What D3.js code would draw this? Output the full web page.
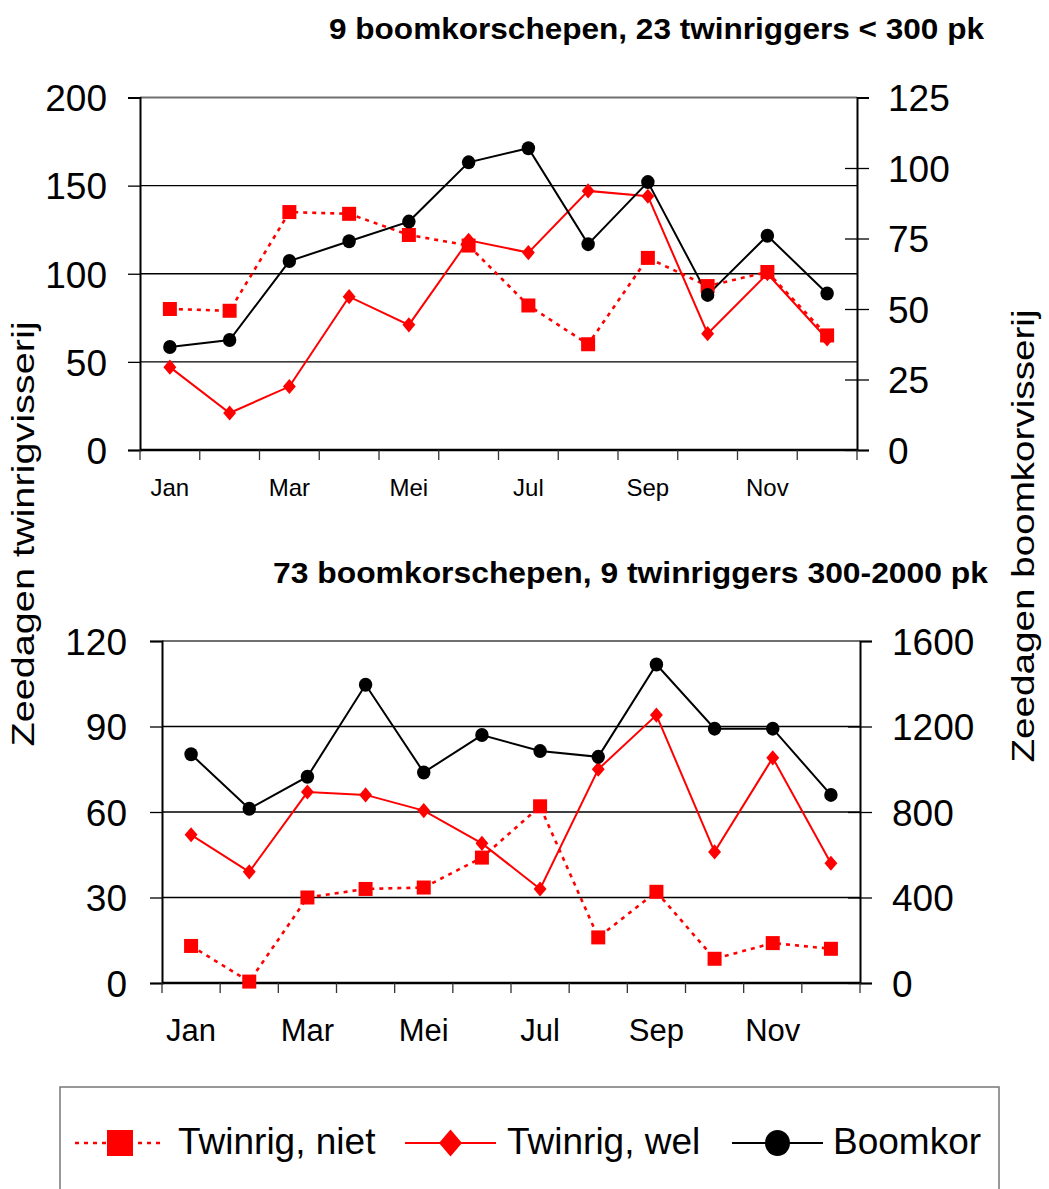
<!DOCTYPE html>
<html>
<head>
<meta charset="utf-8">
<script src="https://cdn.jsdelivr.net/npm/d3@7"></script>
<style>
  html, body { margin: 0; padding: 0; background: #fff; }
  svg { display: block; font-family: "Liberation Sans", Arial, sans-serif; }
</style>
</head>
<body>
<svg id="chart" width="1049" height="1189"></svg>
<script>
// ---- Data ----
const months = ["Jan","Feb","Mar","Apr","Mei","Jun","Jul","Aug","Sep","Okt","Nov","Dec"];
const shownMonths = ["Jan","Mar","Mei","Jul","Sep","Nov"];

// Panel 1: 9 boomkorschepen, 23 twinriggers < 300 pk
const title1 = "9 boomkorschepen, 23 twinriggers < 300 pk";
const twinNiet1 = [80, 79, 135, 134, 122, 116, 82, 60, 109, 93, 101, 65];
const twinWel1  = [47, 21, 36, 87, 71, 119, 112, 147, 144, 66, 100, 63];
const boomkor1  = [36.5, 39, 67, 74, 81, 102, 107, 73, 95, 55, 76, 55.5];
const leftTicks1 = [0, 50, 100, 150, 200];
const rightTicks1 = [0, 25, 50, 75, 100, 125];

// Panel 2: 73 boomkorschepen, 9 twinriggers 300-2000 pk
const title2 = "73 boomkorschepen, 9 twinriggers 300-2000 pk";
const twinNiet2 = [13, 0.5, 30, 33, 33.5, 44, 62, 16, 32, 8.5, 14, 12];
const twinWel2  = [52, 39, 67, 66, 60.5, 49, 33, 75, 94, 46, 79, 42];
const boomkor2  = [1070, 815, 965, 1395, 985, 1160, 1085, 1058, 1490, 1190, 1190, 880];
const leftTicks2 = [0, 30, 60, 90, 120];
const rightTicks2 = [0, 400, 800, 1200, 1600];

const seriesNames = ["Twinrig, niet", "Twinrig, wel", "Boomkor"];
const leftAxisTitle = "Zeedagen twinrigvisserij";
const rightAxisTitle = "Zeedagen boomkorvisserij";

// ---- Drawing ----
const svg = d3.select("#chart");
const RED = "#ff0000";

function drawMarker(g, type, cx, cy, s) {
  if (type === "square") {
    g.append("rect").attr("x", cx - s/2).attr("y", cy - s/2)
      .attr("width", s).attr("height", s).attr("fill", RED);
  } else if (type === "diamond") {
    const w = s * 0.46, h = s * 0.54;
    g.append("path").attr("d", `M${cx},${cy-h}L${cx+w},${cy}L${cx},${cy+h}L${cx-w},${cy}Z`)
      .attr("fill", RED);
  } else {
    g.append("ellipse").attr("cx", cx).attr("cy", cy).attr("rx", s*0.48).attr("ry", s*0.5)
      .attr("fill", "#000");
  }
}

function panel(cfg) {
  const g = svg.append("g");
  const x = d3.scaleBand().domain(months).range([cfg.left, cfg.right]).padding(0);
  const yL = d3.scaleLinear().domain([0, cfg.leftMax]).range([cfg.bottom, cfg.top]);
  const yR = d3.scaleLinear().domain([0, cfg.rightMax]).range([cfg.bottom, cfg.top]);
  const cx = d => x(d) + x.bandwidth() / 2;

  // gridlines
  g.append("g").selectAll("line")
    .data(cfg.leftTicks.filter(v => v > 0 && v < cfg.leftMax))
    .join("line")
    .attr("x1", cfg.left).attr("x2", cfg.right)
    .attr("y1", d => yL(d)).attr("y2", d => yL(d))
    .attr("stroke", "#000").attr("stroke-width", 1.3);

  // plot border top (gray)
  g.append("line").attr("x1", cfg.left).attr("x2", cfg.right)
    .attr("y1", yL(cfg.leftMax)).attr("y2", yL(cfg.leftMax))
    .attr("stroke", "#707070").attr("stroke-width", 2);

  // left axis
  const la = g.append("g").attr("transform", `translate(${cfg.left},0)`)
    .call(d3.axisLeft(yL).tickValues(cfg.leftTicks).tickSize(12).tickPadding(cfg.leftPad).tickFormat(d3.format("d")));
  la.select(".domain").attr("stroke", "#000").attr("stroke-width", 2);
  la.selectAll(".tick line").attr("stroke", "#000").attr("stroke-width", 1.3);
  la.selectAll(".tick text").attr("font-size", 37).attr("fill", "#000")
    .attr("font-family", "Liberation Sans, Arial, sans-serif").attr("dy", "0.36em");

  // right axis
  const ra = g.append("g").attr("transform", `translate(${cfg.right},0)`)
    .call(d3.axisRight(yR).tickValues(cfg.rightTicks).tickSize(12).tickPadding(cfg.rightPad).tickFormat(d3.format("d")));
  ra.select(".domain").attr("stroke", "#000").attr("stroke-width", 2);
  ra.selectAll(".tick line").attr("stroke", "#000").attr("stroke-width", 1.3)
    .attr("x1", d => d === cfg.rightMax ? 0 : -12);
  ra.selectAll(".tick text").attr("font-size", 37).attr("fill", "#000")
    .attr("font-family", "Liberation Sans, Arial, sans-serif").attr("dy", "0.36em");

  // bottom axis line
  g.append("line").attr("x1", cfg.left).attr("x2", cfg.right)
    .attr("y1", cfg.bottom).attr("y2", cfg.bottom)
    .attr("stroke", "#000").attr("stroke-width", 2.5);
  // category boundary ticks
  const bounds = months.map(m => x(m)).concat([cfg.right]);
  g.append("g").selectAll("line").data(bounds).join("line")
    .attr("x1", d => d).attr("x2", d => d)
    .attr("y1", cfg.bottom).attr("y2", cfg.bottom + 10)
    .attr("stroke", "#333").attr("stroke-width", 1.3);
  // month labels
  g.append("g").selectAll("text").data(shownMonths).join("text")
    .attr("x", d => cx(d)).attr("y", cfg.labelY)
    .attr("text-anchor", "middle").attr("font-size", cfg.monthFont).attr("fill", "#000")
    .text(d => d);

  // lines
  const lineL = d3.line().x((d, i) => cx(months[i])).y(d => yL(d));
  const lineR = d3.line().x((d, i) => cx(months[i])).y(d => yR(d));

  g.append("path").datum(cfg.niet).attr("d", lineL).attr("fill", "none")
    .attr("stroke", RED).attr("stroke-width", 2.6).attr("stroke-dasharray", "4,5");
  g.append("path").datum(cfg.wel).attr("d", lineL).attr("fill", "none")
    .attr("stroke", RED).attr("stroke-width", 2);
  g.append("path").datum(cfg.boom).attr("d", lineR).attr("fill", "none")
    .attr("stroke", "#000").attr("stroke-width", 2);

  const mk = g.append("g");
  cfg.niet.forEach((v, i) => drawMarker(mk, "square", cx(months[i]), yL(v), 14));
  cfg.wel.forEach((v, i) => drawMarker(mk, "diamond", cx(months[i]), yL(v), 14));
  cfg.boom.forEach((v, i) => drawMarker(mk, "circle", cx(months[i]), yR(v), 14));

  // title
  svg.append("text").attr("x", cfg.titleRight).attr("y", cfg.titleY)
    .attr("text-anchor", "end").attr("font-weight", "bold").attr("font-size", 29)
    .attr("textLength", cfg.titleLen).attr("lengthAdjust", "spacingAndGlyphs")
    .attr("fill", "#000").text(cfg.title);
}

panel({
  left: 140, right: 857, top: 97.5, bottom: 450,
  leftMax: 200, rightMax: 125,
  leftTicks: leftTicks1, rightTicks: rightTicks1,
  leftPad: 21, rightPad: 19,
  niet: twinNiet1, wel: twinWel1, boom: boomkor1,
  labelY: 496, monthFont: 24,
  title: title1, titleRight: 984, titleY: 39, titleLen: 655
});

panel({
  left: 162, right: 860, top: 641, bottom: 983,
  leftMax: 120, rightMax: 1600,
  leftTicks: leftTicks2, rightTicks: rightTicks2,
  leftPad: 23, rightPad: 20,
  niet: twinNiet2, wel: twinWel2, boom: boomkor2,
  labelY: 1041, monthFont: 31,
  title: title2, titleRight: 988, titleY: 583, titleLen: 715
});

// axis titles
svg.append("text").attr("transform", "translate(34,534) rotate(-90)")
  .attr("text-anchor", "middle").attr("font-size", 31)
  .attr("textLength", 425).attr("lengthAdjust", "spacingAndGlyphs")
  .attr("fill", "#000").text(leftAxisTitle);
svg.append("text").attr("transform", "translate(1034,536) rotate(-90)")
  .attr("text-anchor", "middle").attr("font-size", 31)
  .attr("textLength", 453).attr("lengthAdjust", "spacingAndGlyphs")
  .attr("fill", "#000").text(rightAxisTitle);

// legend
const lg = svg.append("g");
lg.append("rect").attr("x", 60).attr("y", 1087).attr("width", 939).attr("height", 130)
  .attr("fill", "#fff").attr("stroke", "#777").attr("stroke-width", 1.5);
const legendItems = [
  { name: seriesNames[0], type: "square", color: RED, dash: "4,5", x0: 75, x1: 165, tx: 178 },
  { name: seriesNames[1], type: "diamond", color: RED, dash: null, x0: 405, x1: 496, tx: 507 },
  { name: seriesNames[2], type: "circle", color: "#000", dash: null, x0: 732, x1: 823, tx: 833 }
];
const ly = 1143;
legendItems.forEach(it => {
  lg.append("line").attr("x1", it.x0).attr("x2", it.x1).attr("y1", ly).attr("y2", ly)
    .attr("stroke", it.color).attr("stroke-width", it.dash ? 2.6 : 2)
    .attr("stroke-dasharray", it.dash);
  const mx = (it.x0 + it.x1) / 2;
  if (it.type === "square") drawMarker(lg, "square", mx, ly, 26);
  else if (it.type === "diamond") drawMarker(lg, "diamond", mx, ly, 25);
  else drawMarker(lg, "circle", mx, ly, 26);
  lg.append("text").attr("x", it.tx).attr("y", 1154).attr("font-size", 37)
    .attr("fill", "#000").text(it.name);
});
</script>
</body>
</html>
